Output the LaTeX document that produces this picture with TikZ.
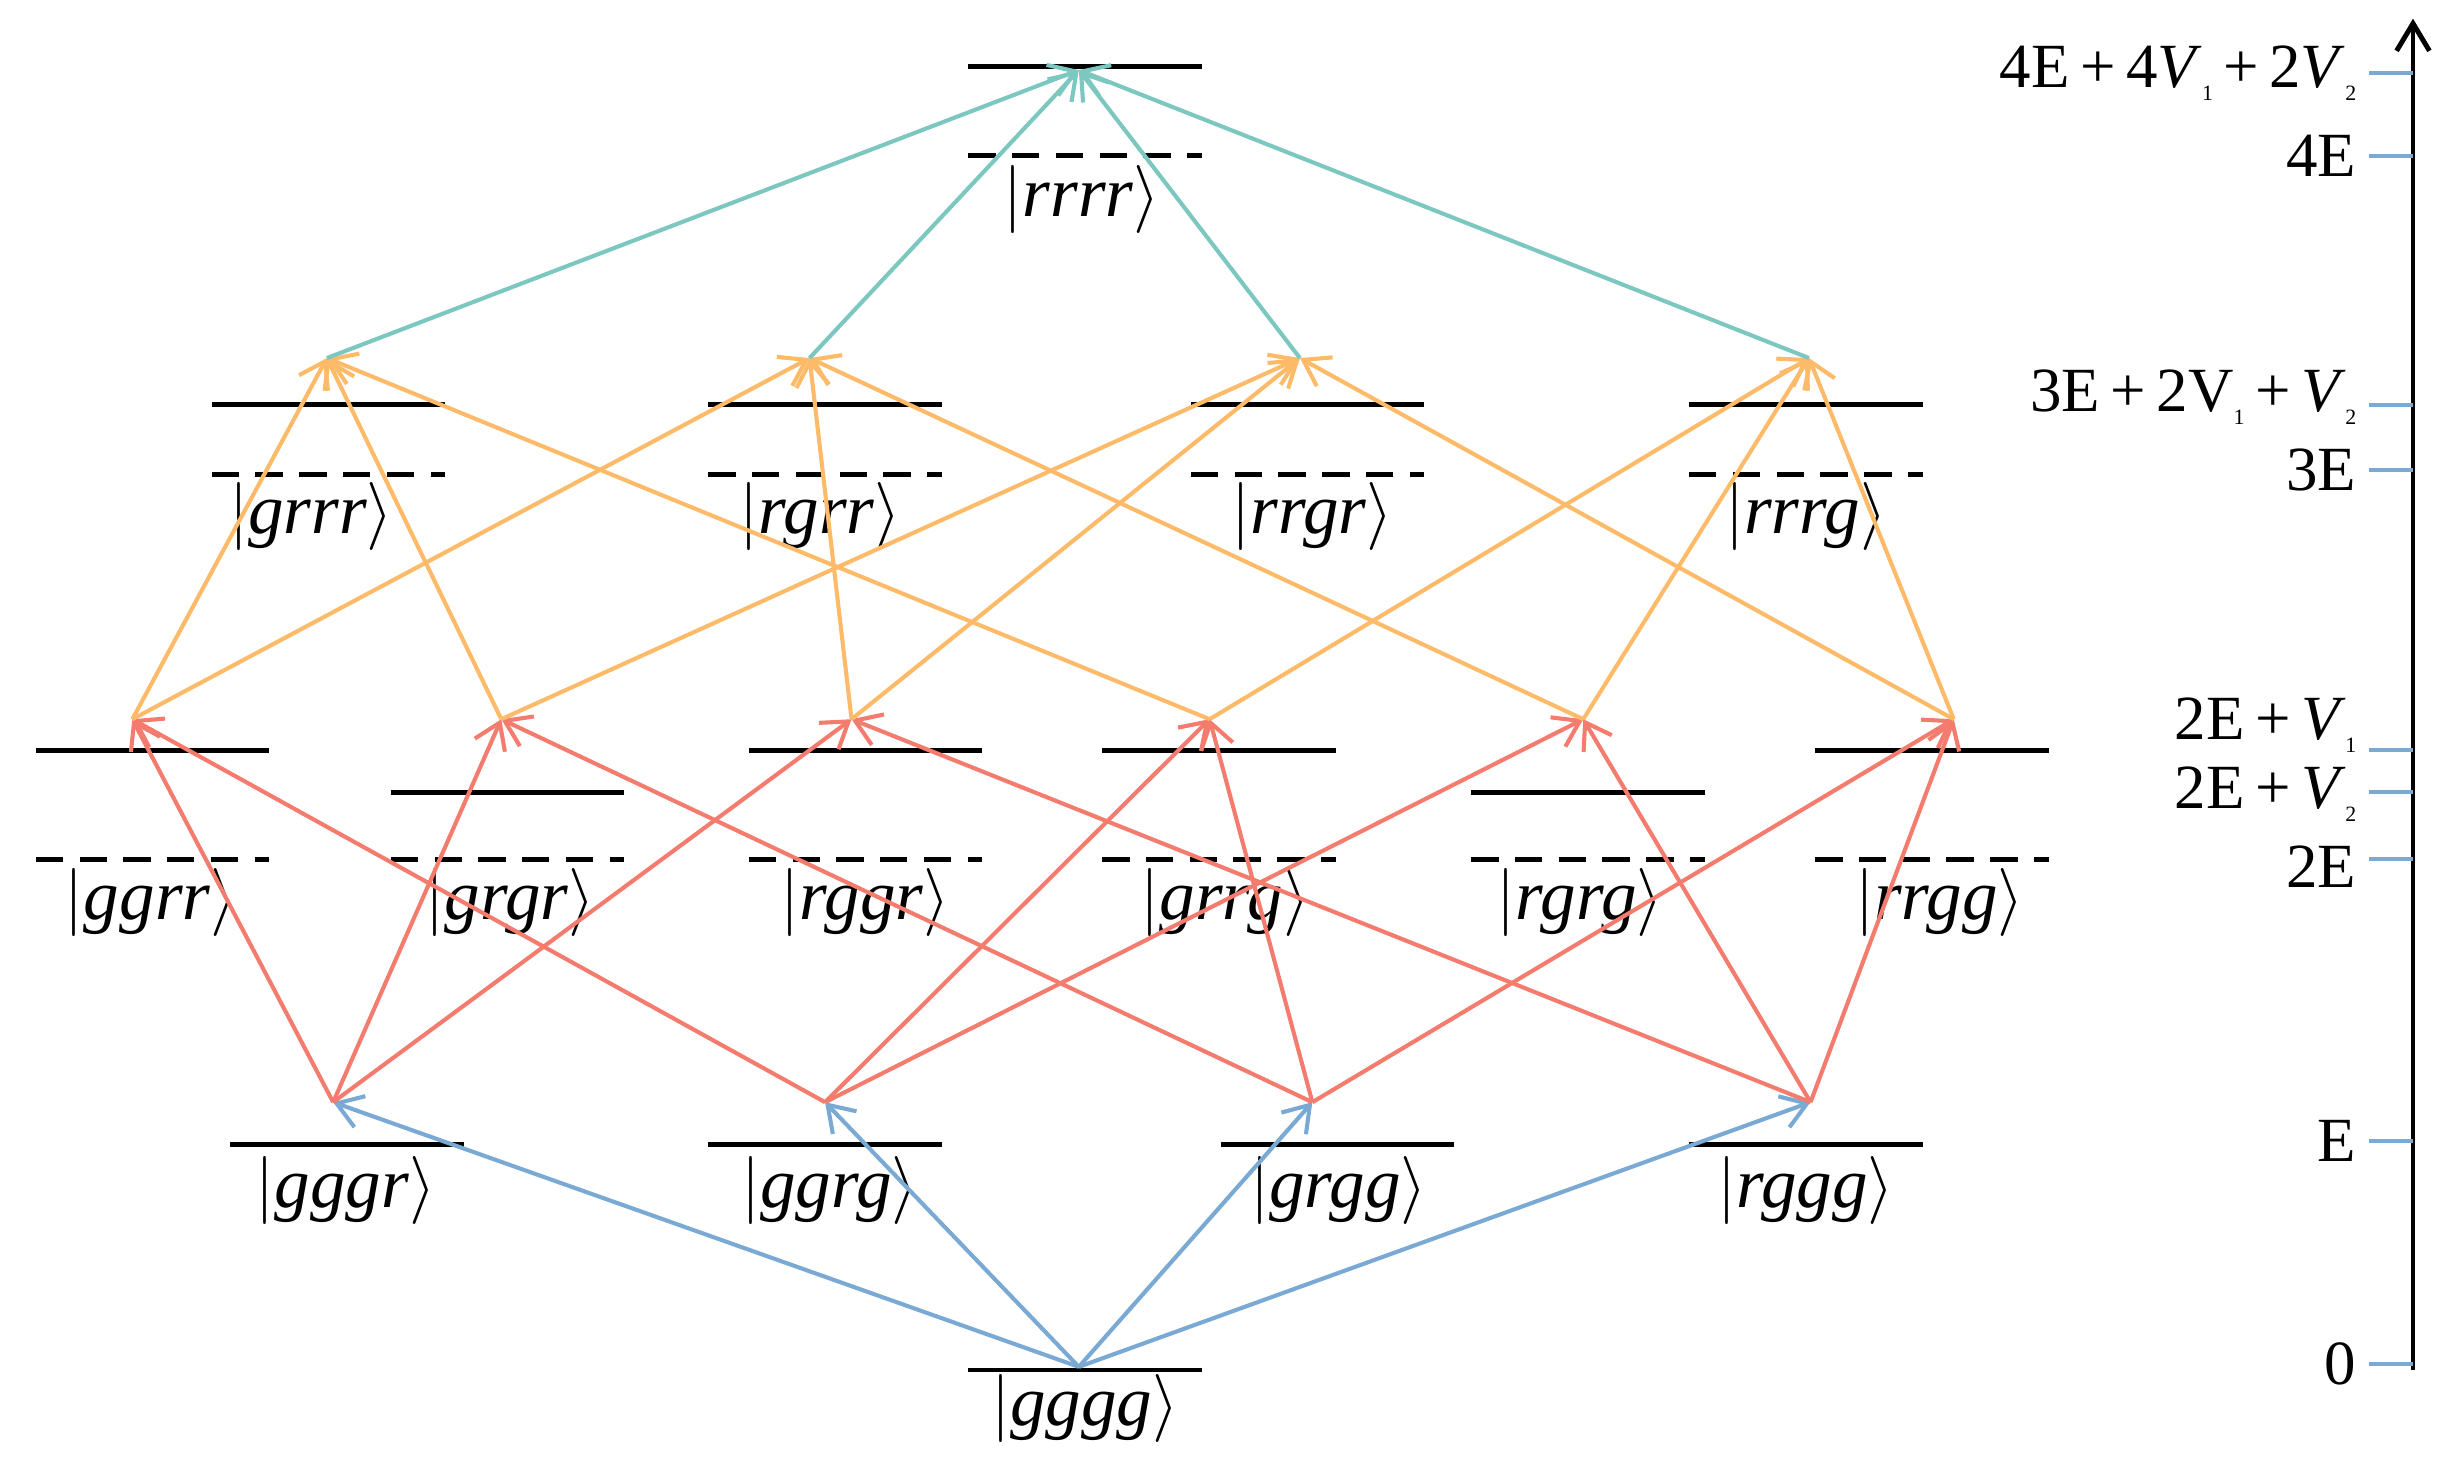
\documentclass[tikz,border=0pt]{standalone}
\usepackage{fontspec}
\setmainfont{Liberation Serif}
\usetikzlibrary{arrows.meta}
\definecolor{cblue}{RGB}{122,170,212}
\definecolor{cred}{RGB}{244,124,110}
\definecolor{corange}{RGB}{253,187,106}
\definecolor{cteal}{RGB}{124,199,192}
\newcommand\myket[1]{$\Big|$\textit{#1}$\Big\rangle$}
\newcommand\sub[1]{\raisebox{-0.45ex}{\fontsize{8}{8}\selectfont #1}}
\begin{document}
\begin{tikzpicture}[x=0.02cm,y=-0.02cm,
  lev/.style={line width=1.8pt},
  dlev/.style={line width=1.8pt,dash pattern=on 10pt off 6pt},
  ket/.style={font=\fontsize{26}{30}\selectfont,inner sep=0pt},
  tr/.style={line width=1.5pt,-{Straight Barb[length=9pt,width=12pt]}},
  tick/.style={line width=1.5pt,cblue},
  ax/.style={font=\fontsize{23}{26}\selectfont,anchor=east,inner sep=0pt}]
\useasboundingbox (0,0) rectangle (1568,946);
% levels
\draw[lev] (622,43)--(772,43); \draw[dlev] (622,100)--(772,100);
\node[ket] (lrrrr) at (695,128) {\myket{rrrr}};
\foreach \a/\b/\n/\c in {136/286/grrr/200,455/605/rgrr/527,765/915/rrgr/843,1085/1235/rrrg/1160}{
  \draw[lev] (\a,260)--(\b,260); \draw[dlev] (\a,305)--(\b,305);
  \node[ket] (l\n) at (\c,332) {\myket{\n}};}
\foreach \a/\b/\y/\n/\c in {23/173/482/ggrr/97,251/401/509/grgr/328,481/631/482/rggr/556,708/858/482/grrg/787,945/1095/509/rgrg/1015,1166/1316/482/rrgg/1246}{
  \draw[lev] (\a,\y)--(\b,\y); \draw[dlev] (\a,552)--(\b,552);
  \node[ket] (l\n) at (\c,580) {\myket{\n}};}
\foreach \a/\b/\n/\c in {148/298/gggr/222,455/605/ggrg/533,784/934/grgg/860,1085/1235/rggg/1160}{
  \draw[lev] (\a,735)--(\b,735);
  \node[ket] (l\n) at (\c,765) {\myket{\n}};}
\draw[lev] (622,880)--(772,880);
\node[ket] (lgggg) at (697,905) {\myket{gggg}};
% transition points
\coordinate (rrrr) at (693,45);
\coordinate (grrr) at (210,230); \coordinate (rgrr) at (520,230);
\coordinate (rrgr) at (835,230); \coordinate (rrrg) at (1162,230);
\coordinate (ggrr) at (85,462); \coordinate (grgr) at (322,462);
\coordinate (rggr) at (547,462); \coordinate (grrg) at (777,462);
\coordinate (rgrg) at (1017,462); \coordinate (rrgg) at (1255,462);
\coordinate (gggr) at (214,708); \coordinate (ggrg) at (530,708);
\coordinate (grgg) at (843,708); \coordinate (rggg) at (1163,708);
\coordinate (gggg) at (693,878);
\foreach \t in {gggr,ggrg,grgg,rggg} \draw[tr,cblue] (gggg)--(\t);
\foreach \s/\t in {gggr/ggrr,gggr/grgr,gggr/rggr,ggrg/ggrr,ggrg/grrg,ggrg/rgrg,grgg/grgr,grgg/grrg,grgg/rrgg,rggg/rggr,rggg/rgrg,rggg/rrgg}
  \draw[tr,cred] (\s)--(\t);
\foreach \s/\t in {grgr/grrr,grrg/grrr,ggrr/grrr,ggrr/rgrr,rggr/rgrr,rgrg/rgrr,grgr/rrgr,rggr/rrgr,rrgg/rrgr,grrg/rrrg,rgrg/rrrg,rrgg/rrrg}
  \draw[tr,corange] (\s)--(\t);
\foreach \s in {grrr,rgrr,rrgr,rrrg} \draw[tr,cteal] (\s)--(rrrr);
% axis
\coordinate (a0) at (1550,880); \coordinate (a1) at (1550,12);
\draw[line width=1.8pt,-{Straight Barb[length=10pt,width=12pt]}] (a0)--(a1);
\foreach \y/\ly/\l in {47/47/{4E\,+\,4\textit{V}\sub{1}\,+\,2\textit{V}\sub{2}},100/100/{4E},260/255/{3E\,+\,2V\sub{1}\,+\,\textit{V}\sub{2}},302/302/{3E},482/466/{2E\,+\,\textit{V}\sub{1}},509/510/{2E\,+\,\textit{V}\sub{2}},552/557/{2E},733/733/{E},876/876/{0}}{
  \draw[tick] (1522,\y)--(1550,\y);
  \node[ax] at (1514,\ly) {\l};}
\end{tikzpicture}
\end{document}
